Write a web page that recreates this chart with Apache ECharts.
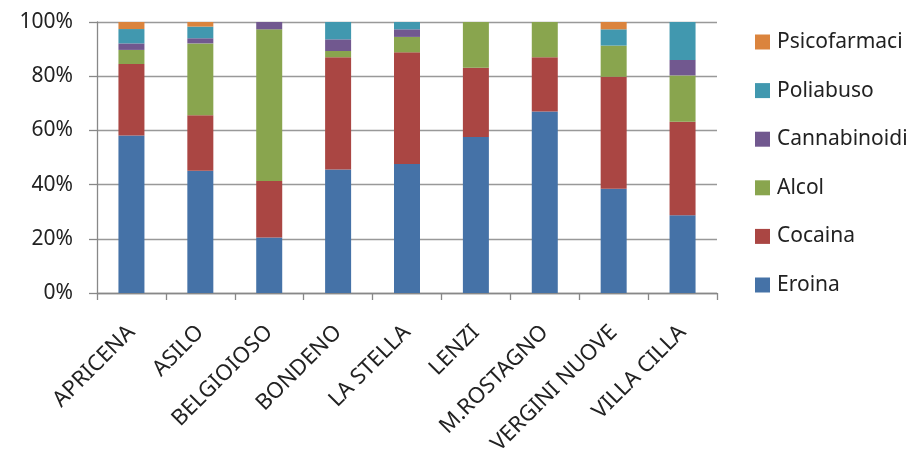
<!DOCTYPE html>
<html>
<head>
<meta charset="utf-8">
<style>html,body{margin:0;padding:0;background:#fff}#c{width:924px;height:460px}</style>
<script src="https://cdn.jsdelivr.net/npm/echarts@6/dist/echarts.min.js"></script>
</head>
<body>
<div id="c"></div>
<script>
const categories = ['APRICENA','ASILO','BELGIOIOSO','BONDENO','LA STELLA','LENZI','M.ROSTAGNO','VERGINI NUOVE','VILLA CILLA'];
const eroina       = [58.1, 45.1, 20.5, 45.6, 47.6, 57.6, 67.0, 38.5, 28.7];
const cocaina      = [26.4, 20.5, 20.8, 41.4, 41.2, 25.5, 20.0, 41.3, 34.5];
const alcol        = [5.2, 26.5, 56.0, 2.3, 5.7, 16.9, 13.0, 11.5, 17.1];
const cannabinoidi = [2.4, 1.9, 2.7, 4.3, 2.8, 0, 0, 0, 5.7];
const poliabuso    = [5.3, 4.3, 0, 6.4, 2.7, 0, 0, 6.0, 14.0];
const psicofarmaci = [2.6, 1.7, 0, 0, 0, 0, 0, 2.7, 0];
const yTicks = [0, 20, 40, 60, 80, 100];

const seriesDefs = [
  ['Eroina', eroina, '#4572A7'],
  ['Cocaina', cocaina, '#AA4643'],
  ['Alcol', alcol, '#89A54E'],
  ['Cannabinoidi', cannabinoidi, '#71588F'],
  ['Poliabuso', poliabuso, '#4198AF'],
  ['Psicofarmaci', psicofarmaci, '#DB843D']
];
const font = 'Noto Sans';
const chart = echarts.init(document.getElementById('c'), null, {renderer: 'canvas'});
chart.setOption({
  animation: false,
  grid: {left: 97, right: 207, top: 22, bottom: 167},
  legend: {
    orient: 'vertical', left: 750, top: 26,
    itemWidth: 15, itemHeight: 15, itemGap: 26.6,
    icon: 'rect',
    data: seriesDefs.map(s => s[0]).reverse(),
    textStyle: {fontFamily: font, fontSize: 21, color: '#222', lineHeight: 22, padding: [0,0,0,2]}
  },
  xAxis: {
    type: 'category', data: categories,
    axisLine: {lineStyle: {color: '#888', width: 1.3}},
    axisTick: {show: true, length: 7, lineStyle: {color: '#888', width: 1.3}},
    axisLabel: {rotate: 45, margin: 36, fontFamily: font, fontSize: 22, color: '#222', interval: 0}
  },
  yAxis: {
    type: 'value', min: 0, max: 100, interval: 20,
    axisLine: {show: true, lineStyle: {color: '#888', width: 1.3}},
    axisTick: {show: true, length: 8, lineStyle: {color: '#888', width: 1.3}},
    splitLine: {lineStyle: {color: '#999', width: 1.3}},
    axisLabel: {margin: 24, fontFamily: font, fontSize: 21, color: '#222',
      formatter: v => yTicks.includes(v) ? v + '%' : ''}
  },
  series: seriesDefs.map(s => ({
    name: s[0], type: 'bar', stack: 'total', data: s[1], barWidth: 26,
    itemStyle: {color: s[2]}
  }))
});
</script>
</body>
</html>
